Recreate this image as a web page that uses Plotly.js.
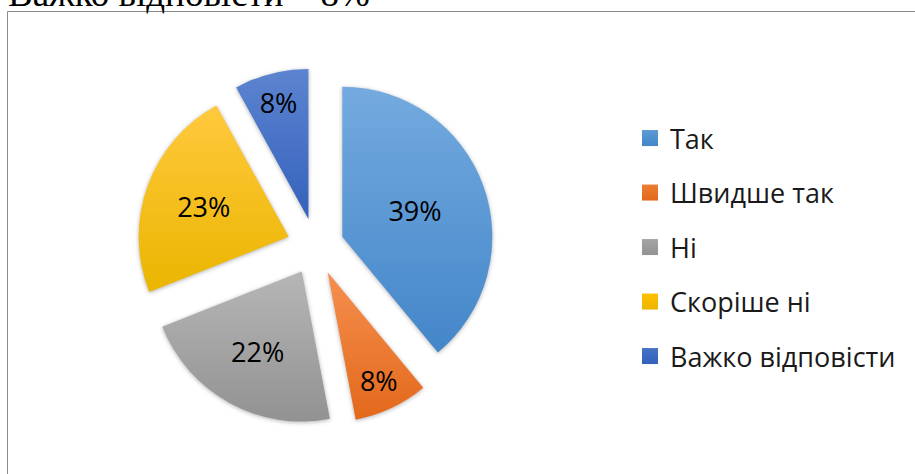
<!DOCTYPE html>
<html>
<head>
<meta charset="utf-8">
<script src="https://cdn.plot.ly/plotly-3.0.1.min.js"></script>
<style>
  html, body { margin: 0; padding: 0; background: #fff; }
  #chart { width: 915px; height: 474px; }
</style>
</head>
<body>
<div id="chart"></div>
<script>
// ---- data ----
const categories = ['Так', 'Швидше так', 'Ні', 'Скоріше ні', 'Важко відповісти'];
const shares = [39, 8, 22, 23, 8];
const headerText = 'Важко відповісти – 8%';

// ---- style ----
const baseColors = ['#5b9bd5', '#ed7d31', '#a5a5a5', '#ffc000', '#4472c4'];
const topColors = ['#74aadf', '#f5904f', '#b6b6b6', '#ffc93e', '#5c84d0'];
const bottomColors = ['#4386c9', '#e3681b', '#929292', '#ebb500', '#3461bc'];

const W = 915, H = 474;

const pieTrace = {
  type: 'pie',
  labels: categories,
  values: shares,
  sort: false,
  direction: 'clockwise',
  rotation: 0,
  pull: categories.map(() => 0.19),
  marker: { colors: baseColors, line: { width: 0 } },
  textinfo: 'percent',
  texttemplate: '%{percent:.0%}',
  textposition: 'inside',
  insidetextorientation: 'horizontal',
  textfont: { family: 'Open Sans, sans-serif', size: 27, color: '#000' },
  hoverinfo: 'none',
  showlegend: false,
  domain: { x: [137 / W, 494 / W], y: [(H - 425) / H, (H - 68) / H] }
};

const legendTraces = categories.map((c, i) => ({
  type: 'scatter',
  mode: 'markers',
  x: [null], y: [null],
  name: c,
  legendgroup: c,
  showlegend: true,
  hoverinfo: 'none',
  marker: { symbol: 'square', size: 16, color: baseColors[i],
            gradient: { type: 'vertical', color: bottomColors[i] } }
}));

const layout = {
  width: W, height: H,
  margin: { l: 0, r: 0, t: 0, b: 0 },
  paper_bgcolor: '#fff',
  plot_bgcolor: 'rgba(0,0,0,0)',
  xaxis: { visible: false },
  yaxis: { visible: false },
  showlegend: true,
  legend: {
    x: 630 / W, xanchor: 'left',
    y: 1 - 114 / H, yanchor: 'top',
    traceorder: 'grouped',
    tracegroupgap: 16.4,
    font: { family: 'Open Sans, sans-serif', size: 27, color: '#1a1a1a' },
    bgcolor: 'rgba(0,0,0,0)',
    borderwidth: 0
  },
  shapes: [{
    type: 'rect', xref: 'paper', yref: 'paper',
    x0: 7.5 / W, x1: 1.05, y0: -0.05, y1: 1 - 11.5 / H,
    line: { color: '#8a8a8a', width: 1 }, fillcolor: 'rgba(0,0,0,0)', layer: 'below'
  }],
  annotations: [{
    xref: 'paper', yref: 'paper',
    x: 6 / W, xanchor: 'left',
    y: 1 + 7 / H, yanchor: 'middle',
    text: headerText, showarrow: false,
    font: { family: 'Liberation Serif, Times New Roman, serif', size: 37, color: '#000' }
  }]
};

const gd = document.getElementById('chart');
Plotly.newPlot(gd, [pieTrace].concat(legendTraces), layout, { staticPlot: true, displayModeBar: false })
  .then(applyStyle);

function applyStyle() {
  const ns = 'http://www.w3.org/2000/svg';
  const svg = gd.querySelector('svg.main-svg');
  let defs = svg.querySelector('defs');
  if (!defs) { defs = document.createElementNS(ns, 'defs'); svg.insertBefore(defs, svg.firstChild); }
  categories.forEach((c, i) => {
    const lg = document.createElementNS(ns, 'linearGradient');
    lg.setAttribute('id', 'sliceGrad' + i);
    lg.setAttribute('x1', '0'); lg.setAttribute('y1', '0');
    lg.setAttribute('x2', '0'); lg.setAttribute('y2', '1');
    [[0, topColors[i]], [1, bottomColors[i]]].forEach(([o, col]) => {
      const st = document.createElementNS(ns, 'stop');
      st.setAttribute('offset', o);
      st.setAttribute('stop-color', col);
      lg.appendChild(st);
    });
    defs.appendChild(lg);
  });
  gd.querySelectorAll('g.slice').forEach(g => {
    const d = g.__data__;
    const idx = d && typeof d.i === 'number' ? d.i : null;
    const p = g.querySelector('path.surface');
    if (p && idx !== null) {
      p.style.fill = 'url(#sliceGrad' + idx + ')';
      p.style.filter = 'drop-shadow(0px 1px 2px rgba(0,0,0,0.3))';
    }
  });
}
</script>
</body>
</html>
